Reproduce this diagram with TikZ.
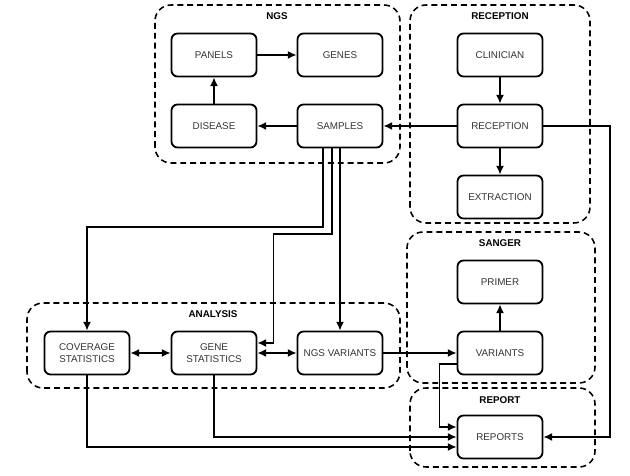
\documentclass[tikz,border=0pt]{standalone}
\usepackage{fontspec}
\setmainfont{Liberation Sans}
\usepackage{xcolor}
\usepackage{tikz}
\usetikzlibrary{arrows.meta,calc,positioning}
\definecolor{boxtext}{HTML}{333333}

\begin{document}
\begin{tikzpicture}[>={Latex[length=2.2mm,width=2mm]},
  stage/.style={draw,line width=1.3pt,rounded corners=0.15cm,minimum width=2.125cm,minimum height=1.075cm,
    align=center,text=boxtext,font=\fontsize{7}{8}\selectfont},
  groupbox/.style={line width=1.1pt,dash pattern=on 4.2pt off 2.8pt,rounded corners=0.4cm},
  grouptitle/.style={font=\fontsize{7}{8}\selectfont\bfseries},
  link/.style={line width=1pt,->}]
\useasboundingbox (0,0) rectangle (15.75,11.9);
% groups
\draw[groupbox] (3.875,7.825) rectangle (10,11.775);
\draw[groupbox] (10.25,6.325) rectangle (14.75,11.775);
\draw[groupbox] (10.175,2.325) rectangle (14.875,6.1);
\draw[groupbox] (0.675,2.2) rectangle (10,4.325);
\draw[groupbox] (10.25,0.225) rectangle (14.875,2.2);
\node[grouptitle] (ngslbl) at (6.925,11.5){NGS};
\node[grouptitle] (receptionlbl) at (12.5,11.5){RECEPTION};
\node[grouptitle] (sangerlbl) at (12.5,5.825){SANGER};
\node[grouptitle] (analysislbl) at (5.325,4.05){ANALYSIS};
\node[grouptitle] (reportlbl) at (12.5,1.9){REPORT};
% stages
\node[stage] (panels) at (5.35,10.525){PANELS};
\node[stage] (genes) at (8.5,10.525){GENES};
\node[stage] (disease) at (5.35,8.75){DISEASE};
\node[stage] (samples) at (8.5,8.75){SAMPLES};
\node[stage] (clinician) at (12.5,10.525){CLINICIAN};
\node[stage] (reception) at (12.5,8.75){RECEPTION};
\node[stage] (extraction) at (12.5,6.975){EXTRACTION};
\node[stage] (primer) at (12.5,4.85){PRIMER};
\node[stage] (variants) at (12.5,3.075){VARIANTS};
\node[stage] (coverage) at (2.175,3.075){COVERAGE\\STATISTICS};
\node[stage] (genestat) at (5.35,3.075){GENE\\STATISTICS};
\node[stage] (ngsvar) at (8.5,3.075){NGS VARIANTS};
\node[stage] (reports) at (12.5,0.975){REPORTS};
\coordinate (rail) at (15.25,0);
% links
\draw[link] (panels)--(genes);
\draw[link] (disease)--(panels);
\draw[link] (samples)--(disease);
\draw[link] (reception)--(samples);
\draw[link] (clinician)--(reception);
\draw[link] (reception)--(extraction);
\draw[link] (reception.east) -| (rail |- reports) -- (reports.east);
\draw[link] ([xshift=-0.425cm]samples.south) -- ++(0,-1.96) -| (coverage.north);
\draw[link] ([xshift=-0.2cm]samples.south) -- ++(0,-2.14) -| ([xshift=0.4cm,yshift=0.25cm]genestat.east) -- ([yshift=0.25cm]genestat.east);
\draw[link] (samples)--(ngsvar);
\draw[link,<->] (coverage)--(genestat);
\draw[link,<->] (genestat)--(ngsvar);
\draw[link] (ngsvar)--(variants);
\draw[link] (variants)--(primer);
\draw[link] ([yshift=-0.275cm]variants.west) -| ([xshift=-0.425cm,yshift=0.25cm]reports.west) -- ([yshift=0.25cm]reports.west);
\draw[link] (genestat.south) |- (reports.west);
\draw[link] (coverage.south) |- ([yshift=-0.25cm]reports.west);
\end{tikzpicture}
\end{document}
